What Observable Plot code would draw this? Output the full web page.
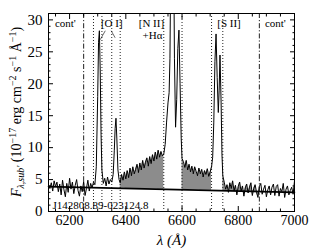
<!DOCTYPE html>
<html>
<head>
<meta charset="utf-8">
<script src="https://cdn.jsdelivr.net/npm/d3@7"></script>
<script src="https://cdn.jsdelivr.net/npm/@observablehq/plot@0.6"></script>
<style>
  html, body { margin: 0; padding: 0; background: #fff; }
  svg, svg text { font-family: "Liberation Serif", "Times New Roman", serif !important; }
</style>
</head>
<body>
<div id="chart"></div>
<script>
// Observed wavelength (Å)
const wave = [
  6125,6130,6135,6140,6145,6150,6155,6160,6165,6170,6175,6180,6185,6190,6195,6200,
  6205,6210,6215,6220,6225,6230,6235,6240,6245,6250,6255,6260,6265,6270,6275,6280,6285,
  6290,6295,6300,6303,6306,6309,6312,6315,6320,6325,6330,6335,6340,6345,6350,6355,
  6359,6362,6365,6368,6372,6376,6380,6385,6390,6395,6400,6405,6410,6415,6420,6425,
  6430,6435,6440,6445,6450,6455,6460,6465,6470,6475,6480,6485,6490,6495,6500,6505,
  6510,6515,6520,6525,6530,6535,6540,6545,6550,6554,6557,6560,6565,6570,6573,6577,
  6581,6585,6589,6593,6597,6600,6605,6610,6615,6620,6625,6630,6635,6640,6645,6650,
  6655,6660,6665,6670,6675,6680,6685,6690,6695,6700,6705,6709,6713,6717,6721,6725,
  6729,6732,6735,6739,6742,6745,6750,6755,6760,6765,6770,6775,6780,6785,6790,6795,
  6800,6805,6810,6815,6820,6825,6830,6835,6840,6845,6850,6855,6860,6865,6870,6875,
  6880,6885,6890,6895,6900,6905,6910,6915,6920,6925,6930,6935,6940,6945,6950,6955,
  6960,6965,6970,6975,6980,6985,6990,6995,7000
];
// Flux, continuum-subtracted spectrum (10^-17 erg cm^-2 s^-1 Å^-1)
const flux = [
  4.2,3.6,4.5,3.2,4.8,3.9,4.6,3.1,4.3,2.6,4.9,3.4,2.3,4.4,3.0,5.2,
  3.5,4.6,2.8,4.1,5.0,3.3,2.4,4.0,3.1,4.7,2.5,3.6,4.9,3.2,4.4,3.7,4.6,
  4.2,7.0,18.0,26.5,28.3,22.0,12.0,6.5,4.4,5.2,4.0,5.4,4.3,5.0,4.6,5.8,
  9.5,13.0,14.6,11.5,6.5,5.0,4.5,5.8,4.9,6.2,5.1,6.4,5.3,6.8,5.6,7.0,
  5.9,6.6,7.4,6.1,7.6,6.5,8.0,6.8,7.7,8.4,7.1,8.6,7.5,8.9,7.9,9.3,
  8.2,9.6,8.5,9.4,8.7,9.0,10.5,14.0,17.0,18.6,24.0,40.0,55.0,42.0,24.0,13.2,
  17.5,25.5,28.4,20.0,11.5,8.3,7.8,6.9,8.0,6.5,7.4,6.2,7.1,5.9,7.0,6.3,
  5.6,6.8,5.9,6.6,5.4,6.4,5.8,6.7,5.5,6.2,7.0,8.5,14.0,23.5,27.8,21.0,
  15.5,19.0,24.5,17.0,9.0,5.6,4.6,3.5,4.2,3.0,4.5,3.6,4.8,3.2,4.1,2.6,
  3.9,4.6,3.1,4.0,2.4,3.7,4.3,2.9,3.8,4.5,2.5,3.6,4.2,3.0,2.2,3.9,
  4.4,2.7,3.5,4.1,2.3,3.4,4.0,2.6,3.8,4.3,2.5,3.9,4.2,2.4,3.6,3.1,
  4.4,2.2,3.5,4.0,2.6,3.3,3.8,2.7,4.8
];
// Continuum fit end points
const contWave = [6125, 7000];
const contFlux = [3.9, 3.0];
// Windows where the broad-line excess is shaded
const fillWindows = [[6380, 6535], [6600, 6705], [6745, 6875]];
// Window boundaries
const dottedLines = [6285, 6315, 6350, 6380, 6535, 6600, 6705, 6745];
const dashDotLines = [6250, 6875];
// Feature labels (wavelength where each label is centred)
const labelText = ["cont'", "[O I]", "[N II]", "[S II]", "cont'"];
const labelWave = [6185, 6350, 6491, 6767, 6932];
const subLabelText = ["+H\u03b1"];
const subLabelWave = [6495];
// Pointer strokes from the [O I] label to its two lines
const pointerFrom = [[6327, 28.3], [6348, 28.3]];
const pointerTo = [[6309, 26.9], [6362, 27.2]];
const objectName = "J142808.89-023124.8";
// Ticks
const xMajor = [6200, 6400, 6600, 6800, 7000];
const xMinor = [6150,6250,6300,6350,6450,6500,6550,6650,6700,6750,6850,6900,6950];
const yMajor = [0, 5, 10, 15, 20, 25, 30];
const yMinor = [1,2,3,4,6,7,8,9,11,12,13,14,16,17,18,19,21,22,23,24,26,27,28,29];

const spec = wave.map((w, i) => ({w, f: flux[i]}));
const contAt = w => contFlux[0] + (contFlux[1] - contFlux[0]) * (w - contWave[0]) / (contWave[1] - contWave[0]);
const fillRows = fillWindows.flatMap(([a, b], k) =>
  spec.filter(d => d.w >= a && d.w <= b).map(d => ({w: d.w, f: d.f, c: contAt(d.w), k})));
const contRows = contWave.map((w, i) => ({w, f: contFlux[i]}));
const labels = labelText.map((t, i) => ({t, w: labelWave[i]}));
const subLabels = subLabelText.map((t, i) => ({t, w: subLabelWave[i]}));
const pointers = pointerFrom.map((p, i) => ({x1: p[0], y1: p[1], x2: pointerTo[i][0], y2: pointerTo[i][1]}));

const noText = () => null;
const plain = d => String(d);
const serif = "Liberation Serif";

const plot = Plot.plot({
  width: 317,
  height: 250,
  marginLeft: 48,
  marginRight: 23,
  marginTop: 13,
  marginBottom: 39,
  style: {fontFamily: serif, fontSize: "14px", background: "white", color: "black", overflow: "visible"},
  x: {domain: [6125, 7000], label: null},
  y: {domain: [0, 31], label: null},
  marks: [
    Plot.areaY(fillRows, {x: "w", y1: "c", y2: "f", z: "k", fill: "#8c8c8c", clip: true}),
    Plot.ruleX(dottedLines, {stroke: "#222", strokeWidth: 1, strokeDasharray: "1,2"}),
    Plot.ruleX(dashDotLines, {stroke: "#222", strokeWidth: 1, strokeDasharray: "5,2,1.2,2"}),
    Plot.line(spec, {x: "w", y: "f", stroke: "black", strokeWidth: 1, clip: true}),
    Plot.line(contRows, {x: "w", y: "f", stroke: "black", strokeWidth: 1.6}),
    Plot.text(labels, {x: "w", text: "t", frameAnchor: "top", lineAnchor: "bottom", dy: 13, fontSize: 11}),
    Plot.text(subLabels, {x: "w", text: "t", frameAnchor: "top", lineAnchor: "bottom", dy: 25, fontSize: 11}),
    Plot.link(pointers, {x1: "x1", y1: "y1", x2: "x2", y2: "y2", stroke: "black", strokeWidth: 0.6}),
    Plot.text([objectName], {frameAnchor: "bottom-left", textAnchor: "start", lineAnchor: "bottom", dx: 4, dy: -3, fontSize: 11}),
    Plot.text(["\u03bb (\u00c5)"], {frameAnchor: "bottom", lineAnchor: "middle", dy: 29, fontSize: 15, fontStyle: "italic"}),
    // axes: major labels + inward ticks
    Plot.axisX(xMajor, {anchor: "bottom", tickSize: -5, tickPadding: 9, tickFormat: plain, label: null, fontSize: 14}),
    Plot.axisX(xMinor, {anchor: "bottom", tickSize: -2.5, tickFormat: noText, label: null}),
    Plot.axisX(xMajor, {anchor: "top", tickSize: -5, tickFormat: noText, label: null}),
    Plot.axisX(xMinor, {anchor: "top", tickSize: -2.5, tickFormat: noText, label: null}),
    Plot.axisY(yMajor, {anchor: "left", tickSize: -5, tickPadding: 11, tickFormat: plain, label: null, fontSize: 15}),
    Plot.axisY(yMinor, {anchor: "left", tickSize: -2.5, tickFormat: noText, label: null}),
    Plot.axisY(yMajor, {anchor: "right", tickSize: -5, tickFormat: noText, label: null}),
    Plot.axisY(yMinor, {anchor: "right", tickSize: -2.5, tickFormat: noText, label: null}),
    Plot.frame({stroke: "black", strokeWidth: 1})
  ]
});

// Rotated y-axis title with sub/superscripts
const svg = d3.select(plot);
const t = svg.append("text")
  .attr("transform", "translate(21,112) rotate(-90)")
  .attr("text-anchor", "middle")
  .attr("font-family", serif)
  .attr("font-size", 14)
  .attr("fill", "black");
t.append("tspan").attr("font-style", "italic").text("F");
t.append("tspan").attr("font-style", "italic").attr("font-size", 10).attr("dy", 3).text("\u03bb,sub'");
t.append("tspan").attr("dy", -3).text(" (10");
t.append("tspan").attr("font-size", 10).attr("dy", -5).text("\u221217");
t.append("tspan").attr("dy", 5).text(" erg cm");
t.append("tspan").attr("font-size", 10).attr("dy", -5).text("\u22122");
t.append("tspan").attr("dy", 5).text(" s");
t.append("tspan").attr("font-size", 10).attr("dy", -5).text("\u22121");
t.append("tspan").attr("dy", 5).text(" \u00c5");
t.append("tspan").attr("font-size", 10).attr("dy", -5).text("\u22121");
t.append("tspan").attr("dy", 5).text(")");

document.getElementById("chart").appendChild(plot);
</script>
</body>
</html>
